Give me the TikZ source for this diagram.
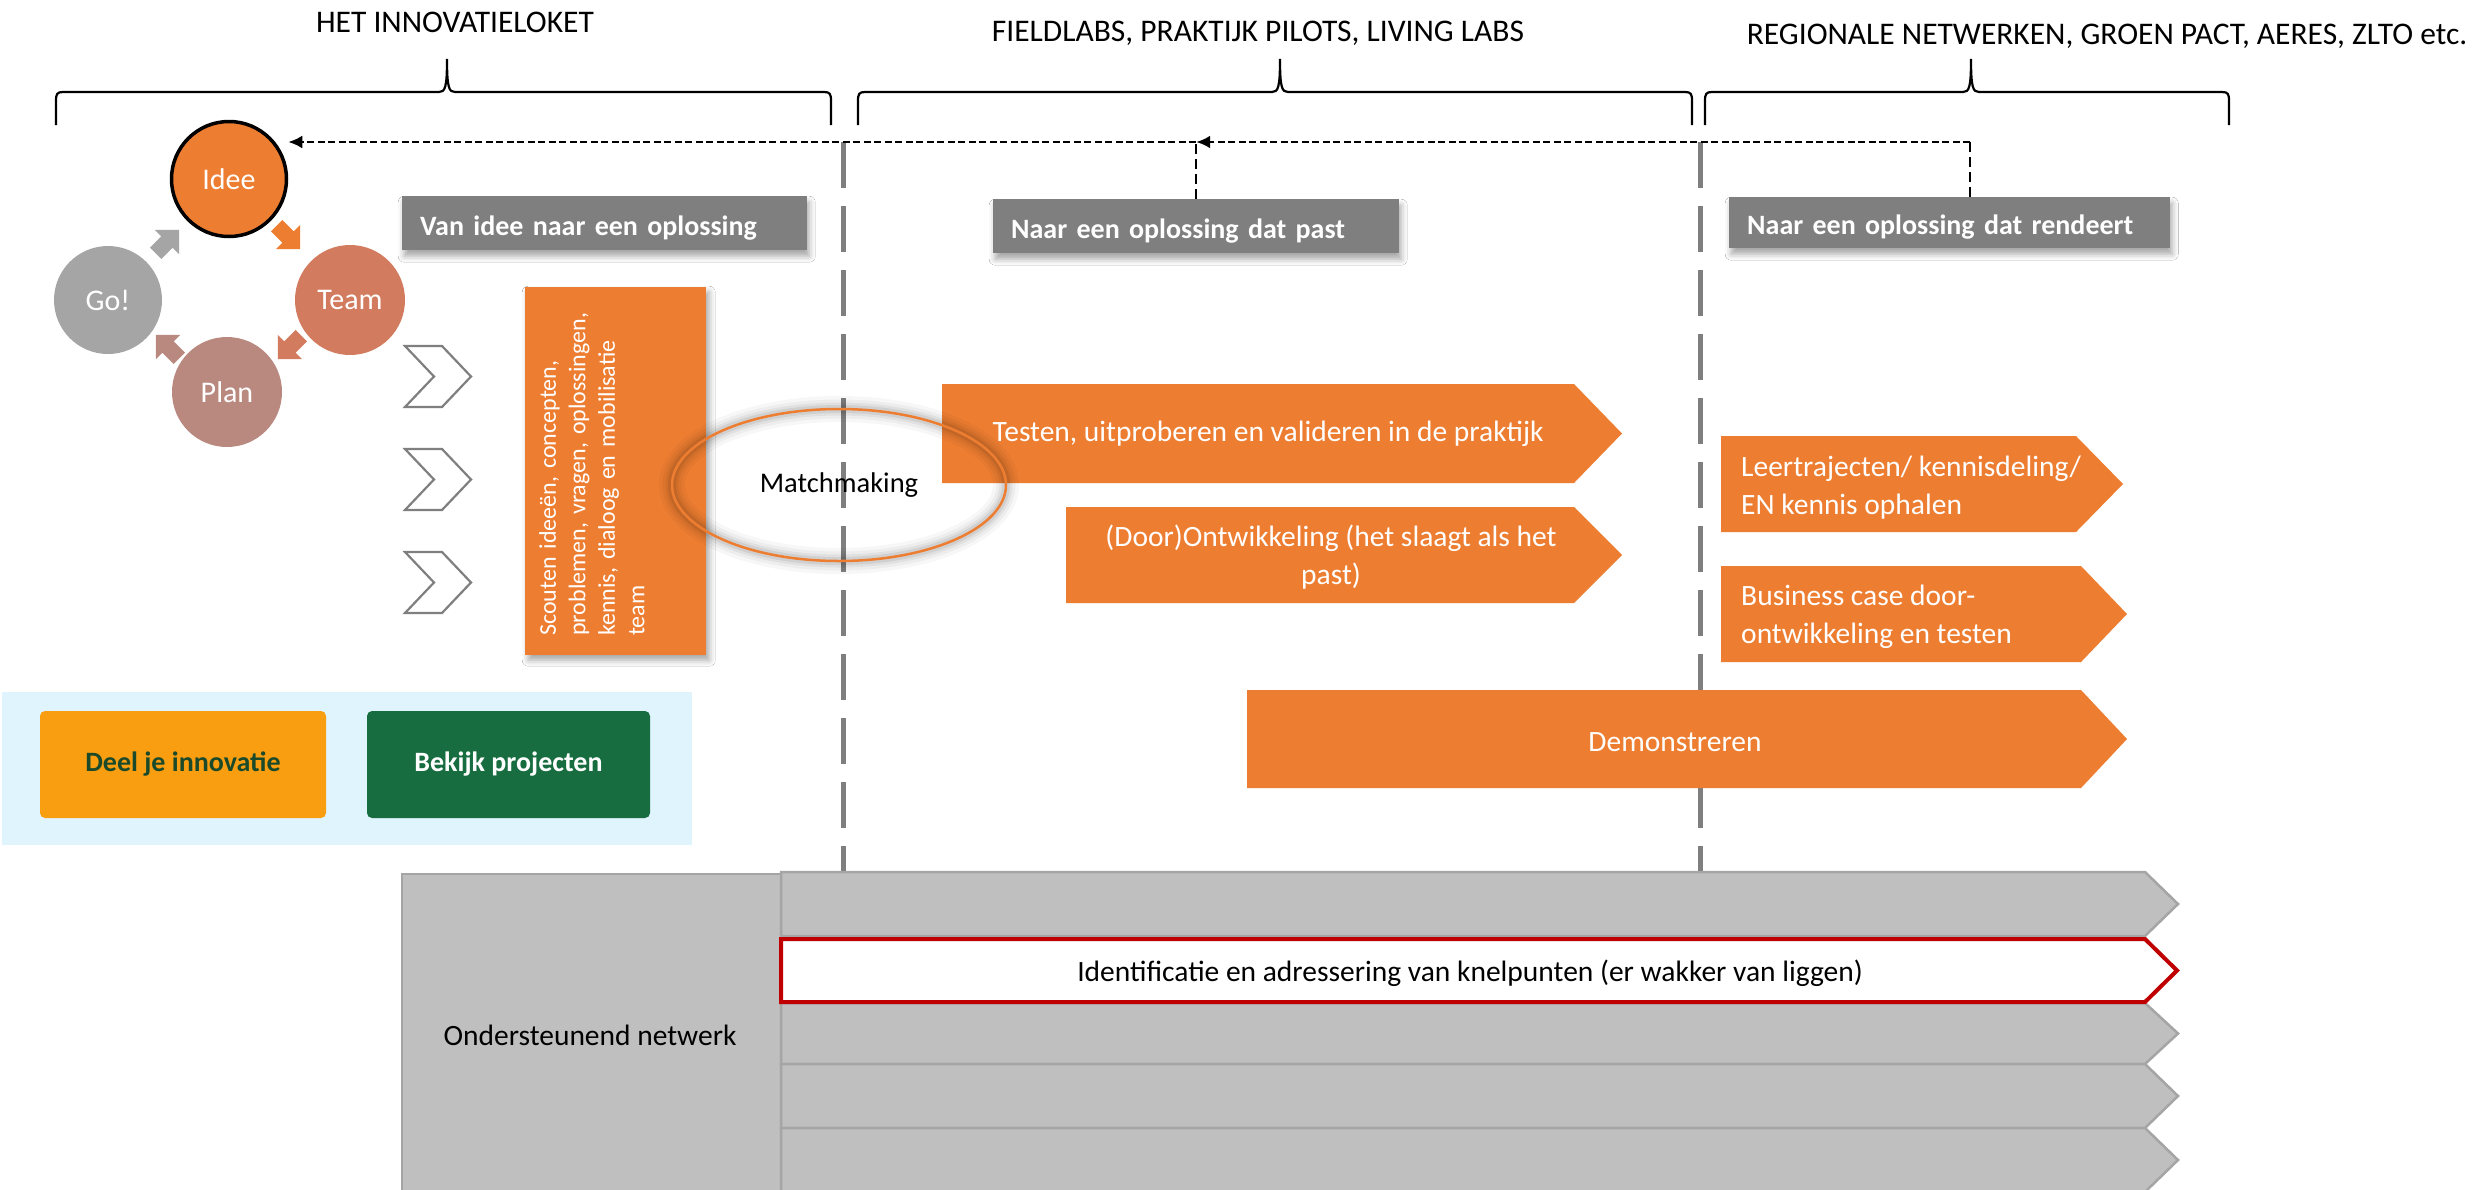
\documentclass[tikz,border=0pt]{standalone}
\usepackage{fontspec}
\setmainfont{Carlito}
\usetikzlibrary{shapes.geometric,arrows.meta,shadows.blur,calc}
\definecolor{org}{HTML}{ED7D31}
\definecolor{boxgray}{HTML}{7F7F7F}
\definecolor{teamc}{HTML}{D27B5E}
\definecolor{planc}{HTML}{B98980}
\definecolor{goc}{HTML}{A5A5A5}
\definecolor{stripe}{HTML}{BFBFBF}
\definecolor{stripeb}{HTML}{A5A5A5}
\definecolor{redb}{HTML}{C00000}
\definecolor{panel}{HTML}{DFF4FC}
\definecolor{btnorg}{HTML}{F99D11}
\definecolor{btngreen}{HTML}{186D40}
\definecolor{btntext}{HTML}{1B4A2A}
\newcommand{\mybrace}[3]{%
 \draw[bracestyle] (#1,-125) -- (#1,-101) .. controls (#1,-94) and (#1+1,-92) .. (#1+7,-92) -- (#2-8,-92) .. controls (#2-2,-92) and (#2,-88) .. (#2,-59) .. controls (#2,-88) and (#2+2,-92) .. (#2+8,-92) -- (#3-7,-92) .. controls (#3-1,-92) and (#3,-94) .. (#3,-101) -- (#3,-125);}
\newcommand{\mychev}[1]{%
 \draw[chevst] (405,-#1) -- (442,-#1) -- (471,-#1-30.5) -- (442,-#1-61) -- (405,-#1-61) -- (434,-#1-30.5) -- cycle;}
\newcommand{\myblk}[4]{%
 \begin{scope}[shift={(#1,#2)},rotate=#3]
 \fill[#4] (-16,-8) -- (0,-8) -- (0,-17) -- (17,0) -- (0,17) -- (0,8) -- (-16,8) -- cycle;
 \end{scope}}
\tikzset{
 bracestyle/.style={line width=2.2pt, black},
 titletext/.style={font=\fontsize{31.5}{37}\selectfont, anchor=base, inner sep=0},
 cyc/.style={circle, inner sep=0, text=white, font=\fontsize{30}{36}\selectfont},
 chevst/.style={draw=boxgray, line width=2.2pt, fill=white, line join=miter},
 lbl/.style={fill=boxgray, text=white, font=\bfseries\fontsize{28}{34}\selectfont, inner xsep=18pt, inner ysep=0pt, text height=28pt, text depth=4pt, minimum height=54pt, align=left, anchor=north west, blur shadow={shadow xshift=2pt, shadow yshift=-6pt, shadow blur radius=6pt, shadow opacity=35}},
 orgbox/.style={fill=org, inner sep=0, anchor=north west, blur shadow={shadow xshift=3pt, shadow yshift=-5pt, shadow blur radius=6pt, shadow opacity=35}},
 wtxt/.style={text=white, font=\fontsize{29.5}{38}\selectfont, inner sep=0},
 btxt/.style={text=black, font=\fontsize{29.5}{38}\selectfont, inner sep=0},
 gdash/.style={draw=boxgray, line width=5pt, dash pattern=on 46pt off 18pt},
 hdash/.style={black, line width=2.6pt, dash pattern=on 7pt off 3.5pt},
 vdash/.style={black, line width=1.6pt, dash pattern=on 10pt off 5pt},
 stripest/.style={fill=stripe, draw=stripeb, line width=2.5pt, line join=miter},
 btn/.style={rounded corners=5pt, inner sep=0, minimum height=107pt, font=\bfseries\fontsize{28}{32}\selectfont}
}
\begin{document}
\begin{tikzpicture}[x=1pt,y=1pt]
\useasboundingbox (0,0) rectangle (2491,-1189);
\fill[white] (0,0) rectangle (2491,-1189);

% gray vertical dashed separators
\coordinate (s1t) at (843,-142);
\coordinate (s1b) at (843,-872);
\coordinate (s2t) at (1700,-142);
\coordinate (s2b) at (1700,-872);
\draw[gdash] (s1t) -- (s1b);
\draw[gdash] (s2t) -- (s2b);

% titles and braces
\node[titletext] (t1) at (455,-32) {HET INNOVATIELOKET};
\node[titletext] (t2) at (1258,-41) {FIELDLABS, PRAKTIJK PILOTS, LIVING LABS};
\node[titletext] (t3) at (2107,-44) {REGIONALE NETWERKEN, GROEN PACT, AERES, ZLTO etc.};
\mybrace{56}{447}{831}
\mybrace{858}{1280}{1692}
\mybrace{1705}{1971}{2229}

% cycle
\node[cyc, fill=org, draw=black, line width=3.5pt, minimum size=115pt] (idee) at (229,-179) {Idee};
\node[cyc, fill=teamc, minimum size=110pt] (team) at (350,-300) {Team};
\node[cyc, fill=planc, minimum size=110pt] (plan) at (227,-392) {Plan};
\node[cyc, fill=goc, minimum size=108pt] (go) at (108,-300) {Go!};
\myblk{288}{-237}{-45}{org}
\myblk{290}{-347}{-135}{teamc}
\myblk{168}{-347}{135}{planc}
\myblk{167}{-242}{45}{goc}

% gray labels
\node[lbl, text width=369pt] (van) at (402,-196) {Van idee naar een oplossing};
\node[lbl, text width=370pt] (past) at (993,-199) {Naar een oplossing dat past};
\node[lbl, text width=405pt, minimum height=51pt] (rend) at (1729,-197) {Naar een oplossing dat rendeert};

% feedback dashed arrows
\coordinate (j2) at (1970,-142);
\coordinate (j1) at (past.north |- j2);
\draw[vdash] (j2 |- rend.north) -- (j2);
\draw[vdash] (past.north) -- (j1);
\draw[hdash, -{Latex[length=14pt,width=13pt]}] (j2) -- (j1);
\draw[hdash, -{Latex[length=14pt,width=13pt]}] (j1) -- (idee.east |- j1);

% chevrons
\mychev{346}
\mychev{449}
\mychev{552}

% scouten box
\node[orgbox, minimum width=181pt, minimum height=368pt] (scout) at (525,-287) {};
\node[rotate=90, anchor=north west, text width=330pt, align=left, inner sep=0, text=white, font=\fontsize{24}{29.5}\selectfont] (scouttxt) at (539,-636) {Scouten ideeën, concepten,\\problemen, vragen, oplossingen,\\kennis, dialoog en mobilisatie\\team};

% orange arrows
\fill[org] (942,-384) -- (1574,-384) -- (1622,-433.5) -- (1574,-483) -- (942,-483) -- cycle;
\node[wtxt] (testen) at (1268,-433.5) {Testen, uitproberen en valideren in de praktijk};
\fill[org] (1066,-507) -- (1574,-507) -- (1622,-555) -- (1574,-603) -- (1066,-603) -- cycle;
\node[wtxt, align=center] (door) at (1331,-557) {(Door)Ontwikkeling (het slaagt als het\\past)};
\fill[org] (1721,-436) -- (2076,-436) -- (2123,-484) -- (2076,-532) -- (1721,-532) -- cycle;
\node[wtxt, align=left, anchor=west] (leer) at (1741,-488) {Leertrajecten/ kennisdeling/\\EN kennis ophalen};
\fill[org] (1721,-566) -- (2081,-566) -- (2127,-614) -- (2081,-662) -- (1721,-662) -- cycle;
\node[wtxt, align=left, anchor=west] (bus) at (1741,-617) {Business case door-\\ontwikkeling en testen};
\fill[org] (1247,-690) -- (2081,-690) -- (2127,-739) -- (2081,-788) -- (1247,-788) -- cycle;
\node[wtxt] (demo) at (1675,-742) {Demonstreren};

% matchmaking ellipse with glow
\foreach \w/\o in {26/0.03, 19/0.04, 13/0.05, 8/0.07}
 \draw[black, opacity=\o, line width=\w pt] (839,-485) ellipse [x radius=167, y radius=76];
\node[ellipse, draw=org, line width=2.5pt, minimum width=334pt, minimum height=152pt, inner sep=0, font=\fontsize{28.5}{34}\selectfont] (mm) at (839,-485) {Matchmaking};

% buttons panel
\fill[panel] (2,-692) rectangle (692,-845);
\node[btn, fill=btnorg, text=btntext, minimum width=286pt] (deel) at (183,-764.5) {Deel je innovatie};
\node[btn, fill=btngreen, text=white, minimum width=283pt] (bekijk) at (508.5,-764.5) {Bekijk projecten};

% bottom network
\node[draw=stripeb, fill=stripe, line width=2pt, minimum width=379pt, minimum height=330pt, anchor=north west, inner sep=0] (ond) at (401,-873) {};
\node[btxt] (ondtxt) at (590,-1035) {Ondersteunend netwerk};
\foreach \t/\b in {872/936, 1003/1064, 1064/1128, 1128/1192}
 \filldraw[stripest] (781,-\t) -- (2145,-\t) -- (2178,-\t/2-\b/2) -- (2145,-\b) -- (781,-\b) -- cycle;
\filldraw[draw=redb, fill=white, line width=4pt, line join=miter] (781,-939) -- (2145,-939) -- (2177,-970.5) -- (2145,-1002) -- (781,-1002) -- cycle;
\node[btxt] (ident) at (1470,-973) {Identificatie en adressering van knelpunten (er wakker van liggen)};
\end{tikzpicture}
\end{document}
